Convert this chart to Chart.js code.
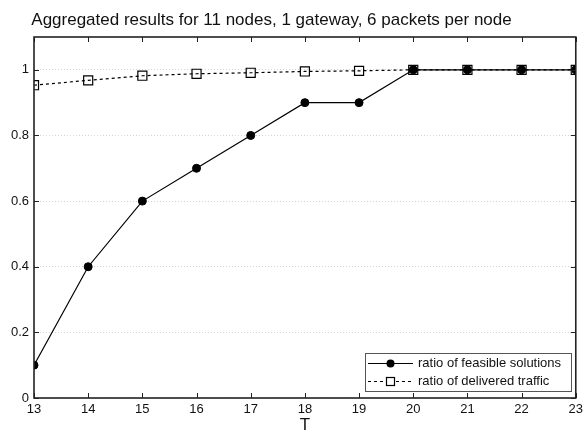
<!DOCTYPE html>
<html>
<head>
<meta charset="utf-8">
<script src="https://cdn.jsdelivr.net/npm/chart.js@4/dist/chart.umd.min.js"></script>
<style>
html,body{margin:0;padding:0;background:#fff;}
#wrap{width:587px;height:434px;position:relative;}
</style>
</head>
<body>
<div id="wrap"><canvas id="c" width="587" height="434"></canvas></div>
<script>
const titleText = "Aggregated results for 11 nodes, 1 gateway, 6 packets per node";
const xTitle = "T";
const categories = [13, 14, 15, 16, 17, 18, 19, 20, 21, 22, 23];
const feasible = [0.1, 0.4, 0.6, 0.7, 0.8, 0.9, 0.9, 1, 1, 1, 1];
const delivered = [0.953, 0.968, 0.982, 0.988, 0.991, 0.995, 0.997, 1, 1, 1, 1];
const seriesNames = ["ratio of feasible solutions", "ratio of delivered traffic"];
const yTicks = [0, 0.2, 0.4, 0.6, 0.8, 1];
const yTickLabels = ["0", "0.2", "0.4", "0.6", "0.8", "1"];

const FONT = "Liberation Sans, Arial, Helvetica, sans-serif";

const framePlugin = {
  id: 'frame',
  afterDraw(chart) {
    const ctx = chart.ctx;
    const a = chart.chartArea;
    const xs = chart.scales.x, ys = chart.scales.y;
    ctx.save();
    // title
    ctx.fillStyle = '#111';
    ctx.font = '17px ' + FONT;
    ctx.textAlign = 'center';
    ctx.textBaseline = 'middle';
    ctx.fillText(titleText, 271.5, 20.5);

    ctx.strokeStyle = '#222';
    ctx.lineWidth = 1;
    const tl = 5;
    ctx.beginPath();
    categories.forEach(v => {
      const px = Math.round(xs.getPixelForValue(v)) + 0.5;
      ctx.moveTo(px, a.bottom); ctx.lineTo(px, a.bottom - tl);
      ctx.moveTo(px, a.top); ctx.lineTo(px, a.top + tl);
    });
    yTicks.forEach(v => {
      const py = Math.round(ys.getPixelForValue(v)) + 0.5;
      ctx.moveTo(a.left, py); ctx.lineTo(a.left + tl, py);
      ctx.moveTo(a.right, py); ctx.lineTo(a.right - tl, py);
    });
    ctx.stroke();
    ctx.lineWidth = 1.6;
    ctx.strokeRect(a.left, a.top, a.right - a.left, a.bottom - a.top);

    // legend
    const lx = 365, ly = 353, lw = 206, lh = 38;
    ctx.fillStyle = '#fff';
    ctx.fillRect(lx, ly, lw, lh);
    ctx.lineWidth = 1;
    ctx.strokeStyle = '#555';
    ctx.strokeRect(lx + 0.5, ly + 0.5, lw, lh);
    const rows = [ly + 10.5, ly + 28.5];
    ctx.strokeStyle = '#000';
    ctx.lineWidth = 1.2;
    ctx.setLineDash([]);
    ctx.beginPath(); ctx.moveTo(368, rows[0]); ctx.lineTo(413, rows[0]); ctx.stroke();
    ctx.fillStyle = '#000';
    ctx.beginPath(); ctx.arc(390.5, rows[0], 4, 0, Math.PI * 2); ctx.fill();
    ctx.setLineDash([3, 3]);
    ctx.beginPath(); ctx.moveTo(368, rows[1]); ctx.lineTo(385, rows[1]); ctx.moveTo(396, rows[1]); ctx.lineTo(413, rows[1]); ctx.stroke();
    ctx.setLineDash([]);
    ctx.strokeRect(386.5, rows[1] - 4, 8, 8);
    ctx.fillStyle = '#111';
    ctx.font = '13px ' + FONT;
    ctx.textBaseline = 'middle';
    ctx.textAlign = 'left';
    ctx.fillText(seriesNames[0], 418, rows[0]);
    ctx.fillText(seriesNames[1], 418, rows[1]);
    ctx.restore();
  }
};

new Chart(document.getElementById('c'), {
  type: 'line',
  data: {
    datasets: [
      {
        label: seriesNames[0],
        data: categories.map((x, i) => ({x: x, y: feasible[i]})),
        borderColor: '#000',
        backgroundColor: '#000',
        borderWidth: 1.2,
        pointRadius: 4,
        pointBorderWidth: 1,
        pointStyle: 'circle',
        fill: false,
        tension: 0
      },
      {
        label: seriesNames[1],
        data: categories.map((x, i) => ({x: x, y: delivered[i]})),
        borderColor: '#000',
        backgroundColor: 'rgba(0,0,0,0)',
        borderWidth: 1.2,
        borderDash: [3, 3],
        pointRadius: 6.4,
        pointBorderWidth: 1.2,
        pointStyle: 'rect',
        fill: false,
        tension: 0
      }
    ]
  },
  options: {
    responsive: false,
    animation: false,
    devicePixelRatio: 1,
    layout: {padding: {left: 0, right: 10, top: 37, bottom: 0}},
    plugins: {
      legend: {display: false},
      tooltip: {enabled: false},
      title: {display: false}
    },
    scales: {
      x: {
        type: 'linear',
        min: 13, max: 23,
        afterBuildTicks: s => { s.ticks = categories.map(v => ({value: v})); },
        afterFit: s => { s.height = 36; },
        ticks: {
          color: '#111',
          font: {family: FONT, size: 13},
          padding: 4,
          maxRotation: 0,
          callback: v => String(v)
        },
        grid: {display: false, drawTicks: false},
        border: {display: false},
        title: {
          display: true,
          text: xTitle,
          color: '#111',
          font: {family: FONT, size: 17, lineHeight: 1},
          padding: {top: 0, bottom: 0}
        }
      },
      y: {
        type: 'linear',
        min: 0, max: 1.1,
        afterBuildTicks: s => { s.ticks = yTicks.map(v => ({value: v})); },
        afterFit: s => { s.width = 34; },
        ticks: {
          color: '#111',
          font: {family: FONT, size: 13},
          padding: 5,
          callback: (v) => { const i = yTicks.findIndex(t => Math.abs(t - v) < 1e-9); return i >= 0 ? yTickLabels[i] : ''; }
        },
        grid: {display: true, drawTicks: false, color: '#d4d4d4', lineWidth: 1},
        border: {display: false, dash: [1, 2]}
      }
    }
  },
  plugins: [framePlugin]
});
</script>
</body>
</html>
